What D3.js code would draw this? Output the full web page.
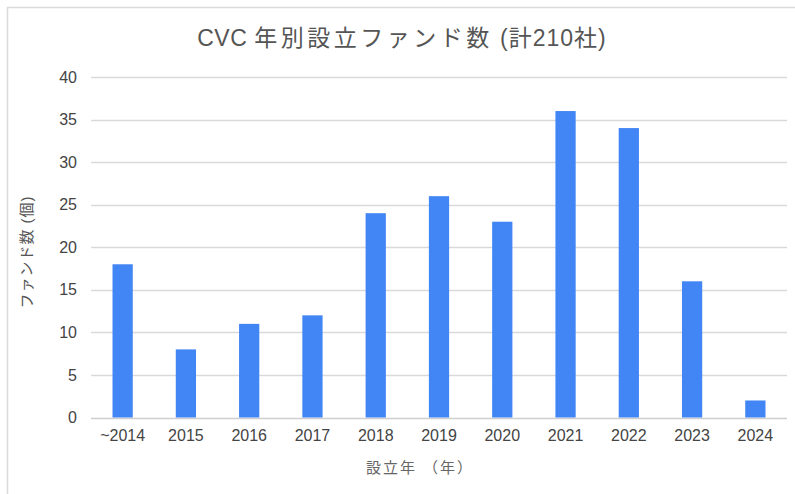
<!DOCTYPE html>
<html>
<head>
<meta charset="utf-8">
<script src="https://cdn.jsdelivr.net/npm/d3@7"></script>
<style>
  body { margin: 0; background: #fff; }
  svg { display: block; }
</style>
</head>
<body>
<div id="chart"></div>
<script>
// data
const years = ["~2014", "2015", "2016", "2017", "2018", "2019", "2020", "2021", "2022", "2023", "2024"]
const funds = [18, 8, 11, 12, 24, 26, 23, 36, 34, 16, 2]
const yTicks = [0, 5, 10, 15, 20, 25, 30, 35, 40]

// title split so that the kana/kanji run can get its own spacing
const titleParts = ["CVC ", "年別設立ファンド数", " (計210社)"]
const xTitle = "設立年 （年）"
const yTitle = "ファンド数 (個)"

const width = 795, height = 494
const margin = {top: 77, right: 8, bottom: 76, left: 91}
const font = "Arial, 'Liberation Sans', 'Noto Sans CJK JP', sans-serif"

const svg = d3.select("#chart").append("svg")
    .attr("width", width)
    .attr("height", height)
    .attr("font-family", font)

// frame (only top + left edges visible in the crop)
svg.append("path")
    .attr("d", `M7.5,${height} V7.5 H${width}`)
    .attr("fill", "none")
    .attr("stroke", "#dadada")
    .attr("stroke-width", 1.5)

const x = d3.scaleBand()
    .domain(years)
    .range([margin.left, width - margin.right])
    .paddingInner(0.68)
    .paddingOuter(0.34)

const y = d3.scaleLinear()
    .domain([0, 40])
    .range([height - margin.bottom - 0.5, margin.top])

// gridlines
svg.append("g")
    .selectAll("line")
    .data(yTicks)
    .join("line")
    .attr("x1", margin.left)
    .attr("x2", width - margin.right)
    .attr("y1", d => Math.round(y(d)) + 0.5)
    .attr("y2", d => Math.round(y(d)) + 0.5)
    .attr("stroke", d => d === 0 ? "#cfcfcf" : "#d9d9d9")
    .attr("stroke-width", 1.5)

// y axis labels
const yAxis = svg.append("g")
    .attr("transform", `translate(${margin.left - 14},0)`)
    .call(d3.axisLeft(y).tickValues(yTicks).tickSize(0).tickPadding(0))
yAxis.select(".domain").remove()
yAxis.selectAll("text")
    .attr("font-family", font)
    .attr("font-size", 16)
    .attr("fill", "#444")

// bars
svg.append("g")
    .selectAll("rect")
    .data(funds)
    .join("rect")
    .attr("x", (d, i) => x(years[i]))
    .attr("y", d => y(d))
    .attr("width", x.bandwidth())
    .attr("height", d => y(0) - y(d))
    .attr("fill", "#4285f4")

// x axis labels
const xAxis = svg.append("g")
    .attr("transform", `translate(0,${y(0) + 12})`)
    .call(d3.axisBottom(x).tickSize(0).tickPadding(0))
xAxis.select(".domain").remove()
xAxis.selectAll("text")
    .attr("font-family", font)
    .attr("font-size", 16)
    .attr("fill", "#444")

// title
const titleText = svg.append("text")
    .attr("x", 402)
    .attr("y", 46)
    .attr("text-anchor", "middle")
    .attr("font-size", 23)
    .attr("fill", "#555")
titleText.selectAll("tspan")
    .data(titleParts)
    .join("tspan")
    .attr("letter-spacing", (d, i) => [0.5, 3.5, 1][i])
    .text(d => d)

// axis titles
svg.append("text")
    .attr("x", 420)
    .attr("y", 473)
    .attr("text-anchor", "middle")
    .attr("font-size", 15)
    .attr("fill", "#666")
    .attr("letter-spacing", 2)
    .text(xTitle)

svg.append("text")
    .attr("transform", `translate(32,252) rotate(-90)`)
    .attr("text-anchor", "middle")
    .attr("font-size", 15)
    .attr("fill", "#555")
    .attr("letter-spacing", 1)
    .text(yTitle)
</script>
</body>
</html>
